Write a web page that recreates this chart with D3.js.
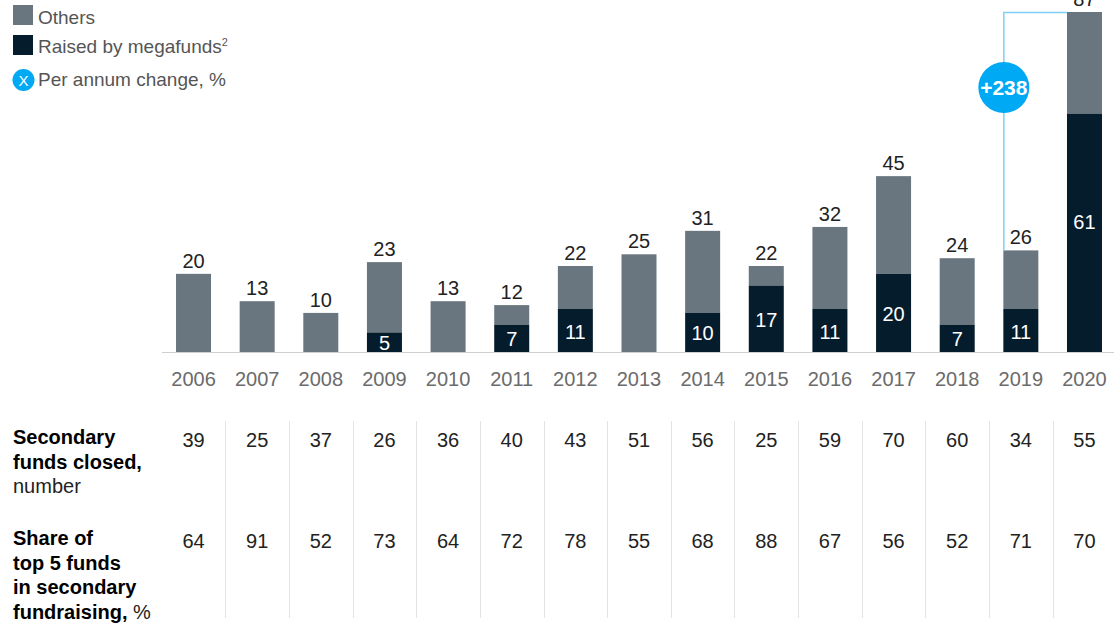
<!DOCTYPE html>
<html>
<head>
<meta charset="utf-8">
<script src="https://cdn.jsdelivr.net/npm/d3@7"></script>
<style>
  html, body { margin: 0; padding: 0; background: #fff; }
  svg { display: block; font-family: "Liberation Sans", Arial, sans-serif; }
</style>
</head>
<body>
<svg id="chart" width="1114" height="624"></svg>
<script>
// years on the x axis
const years = ["2006", "2007", "2008", "2009", "2010", "2011", "2012", "2013",
               "2014", "2015", "2016", "2017", "2018", "2019", "2020"];
// total secondary fundraising per year
const totals = [20, 13, 10, 23, 13, 12, 22, 25, 31, 22, 32, 45, 24, 26, 87];
// part raised by megafunds (0 = none shown)
const megafunds = [0, 0, 0, 5, 0, 7, 11, 0, 10, 17, 11, 20, 7, 11, 61];
// table rows
const fundsClosed = [39, 25, 37, 26, 36, 40, 43, 51, 56, 25, 59, 70, 60, 34, 55];
const top5Share = [64, 91, 52, 73, 64, 72, 78, 55, 68, 88, 67, 56, 52, 71, 70];
// annotation between 2019 and 2020
const changeLabel = "+238";

const colOthers = "#69767f";
const colMega = "#051c2c";
const colCyan = "#00a9f4";

const svg = d3.select("#chart");

const x = d3.scaleBand()
    .domain(years)
    .range([161.7, 1116.3])
    .paddingInner(0.45)
    .paddingOuter(0.225);

const y = d3.scaleLinear()
    .domain([0, 87])
    .range([352, 12]);

const data = years.map((yr, i) => ({
    year: yr,
    total: totals[i],
    mega: megafunds[i]
}));

// bars: others on top of megafunds
const bars = svg.append("g");
bars.selectAll("rect.others")
    .data(data)
    .enter().append("rect")
    .attr("class", "others")
    .attr("x", d => x(d.year))
    .attr("width", x.bandwidth())
    .attr("y", d => y(d.total))
    .attr("height", d => y(d.mega) - y(d.total))
    .attr("fill", colOthers);

bars.selectAll("rect.mega")
    .data(data.filter(d => d.mega > 0))
    .enter().append("rect")
    .attr("class", "mega")
    .attr("x", d => x(d.year))
    .attr("width", x.bandwidth())
    .attr("y", d => y(d.mega))
    .attr("height", d => y(0) - y(d.mega))
    .attr("fill", colMega);

// baseline
svg.append("line")
    .attr("x1", 162).attr("x2", 1114)
    .attr("y1", y(0) + 0.5).attr("y2", y(0) + 0.5)
    .attr("stroke", "#cfcfcf").attr("stroke-width", 1);

// total labels
svg.append("g").selectAll("text")
    .data(data)
    .enter().append("text")
    .attr("x", d => x(d.year) + x.bandwidth() / 2)
    .attr("y", d => y(d.total) - 6)
    .attr("text-anchor", "middle")
    .style("font-size", "20px")
    .style("fill", "#222")
    .text(d => d.total);

// megafund labels inside dark segment (tall segments sit a bit above middle)
svg.append("g").selectAll("text")
    .data(data.filter(d => d.mega > 0))
    .enter().append("text")
    .attr("x", d => x(d.year) + x.bandwidth() / 2)
    .attr("y", d => {
        const mid = (y(d.mega) + y(0)) / 2 + 8;
        return d.mega > 40 ? mid - 12 : mid;
    })
    .attr("text-anchor", "middle")
    .style("font-size", "20px")
    .style("fill", "#fff")
    .text(d => d.mega);

// year axis labels
svg.append("g").selectAll("text")
    .data(years)
    .enter().append("text")
    .attr("x", d => x(d) + x.bandwidth() / 2)
    .attr("y", 386)
    .attr("text-anchor", "middle")
    .style("font-size", "20px")
    .style("fill", "#6b6b6b")
    .text(d => d);

// table column separators
const step = x.step();
svg.append("g").selectAll("line")
    .data(years.slice(1))
    .enter().append("line")
    .attr("x1", d => Math.round(x(d) + x.bandwidth() / 2 - step / 2) + 0.5)
    .attr("x2", d => Math.round(x(d) + x.bandwidth() / 2 - step / 2) + 0.5)
    .attr("y1", 421).attr("y2", 618)
    .attr("stroke", "#e3e3e3").attr("stroke-width", 1);

// table values
function tableRow(values, baseline) {
    svg.append("g").selectAll("text")
        .data(values)
        .enter().append("text")
        .attr("x", (d, i) => x(years[i]) + x.bandwidth() / 2)
        .attr("y", baseline)
        .attr("text-anchor", "middle")
        .style("font-size", "20px")
        .style("fill", "#222")
        .text(d => d);
}
tableRow(fundsClosed, 447);
tableRow(top5Share, 548);

// row labels
function rowLabel(lines, baseline) {
    const t = svg.append("text")
        .attr("x", 13)
        .attr("y", baseline)
        .style("font-size", "20px")
        .style("fill", "#000");
    lines.forEach((ln, i) => {
        const ts = t.append("tspan").attr("x", 13).attr("dy", i === 0 ? 0 : 24.5);
        ln.forEach(part => {
            ts.append("tspan")
                .style("font-weight", part.bold ? "bold" : "normal")
                .style("fill", part.bold ? "#000" : "#222")
                .text(part.text);
        });
    });
}
rowLabel([
    [{ text: "Secondary", bold: true }],
    [{ text: "funds closed,", bold: true }],
    [{ text: "number", bold: false }]
], 444);
rowLabel([
    [{ text: "Share of", bold: true }],
    [{ text: "top 5 funds", bold: true }],
    [{ text: "in secondary", bold: true }],
    [{ text: "fundraising,", bold: true }, { text: " %", bold: false }]
], 545);

// change annotation bracket 2019 -> 2020
const xa = x("2019");
const xb = x("2020");
const topY = y(87);
svg.append("path")
    .attr("d", `M${xa + 0.5},${y(26)} V${topY + 0.5} H${xb}`)
    .attr("fill", "none")
    .attr("stroke", "#7fcff4")
    .attr("stroke-width", 1.5);
svg.append("circle")
    .attr("cx", xa + 0.5)
    .attr("cy", 87.5)
    .attr("r", 25.5)
    .attr("fill", colCyan);
svg.append("text")
    .attr("x", xa + 0.5)
    .attr("y", 95)
    .attr("text-anchor", "middle")
    .style("font-size", "21px")
    .style("font-weight", "bold")
    .style("fill", "#fff")
    .text(changeLabel);

// legend
const legend = svg.append("g");
legend.append("rect").attr("x", 13).attr("y", 5).attr("width", 20).attr("height", 20).attr("fill", colOthers);
legend.append("rect").attr("x", 13).attr("y", 35).attr("width", 20).attr("height", 20).attr("fill", colMega);
legend.append("circle").attr("cx", 23.5).attr("cy", 80).attr("r", 11).attr("fill", colCyan);
legend.append("text").attr("x", 23.5).attr("y", 85.5).attr("text-anchor", "middle")
    .style("font-size", "15px").style("fill", "#fff").text("X");

const legText = [
    { y: 24, text: "Others" },
    { y: 53, text: "Raised by megafunds", sup: "2" },
    { y: 86, text: "Per annum change, %" }
];
legText.forEach(l => {
    const t = legend.append("text")
        .attr("x", 38).attr("y", l.y)
        .style("font-size", "19px")
        .style("fill", "#555")
        .text(l.text);
    if (l.sup) {
        t.append("tspan").attr("dy", -7).style("font-size", "11px").text(l.sup);
    }
});
</script>
</body>
</html>
